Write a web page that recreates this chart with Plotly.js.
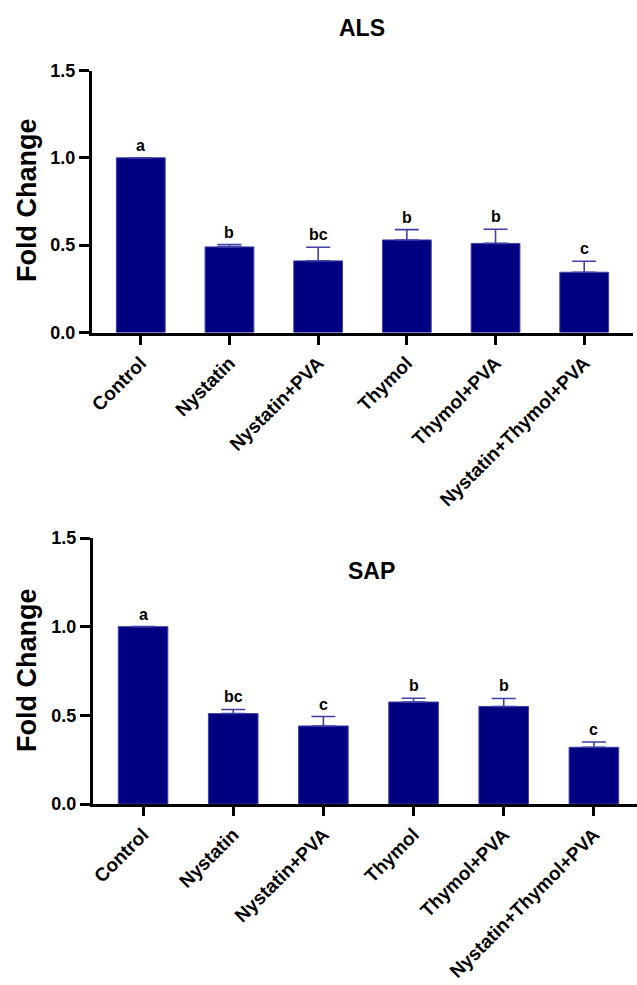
<!DOCTYPE html>
<html>
<head>
<meta charset="utf-8">
<script src="https://cdn.plot.ly/plotly-3.0.1.min.js"></script>
<style>html,body{margin:0;padding:0;background:#fff;}#chart{width:637px;height:985px;}</style>
</head>
<body>
<div id="chart"></div>
<script>
const categories = ['Control','Nystatin','Nystatin+PVA','Thymol','Thymol+PVA','Nystatin+Thymol+PVA'];
const alsMean = [1.0, 0.49, 0.41, 0.53, 0.51, 0.345];
const alsErr = [0, 0.013, 0.078, 0.059, 0.081, 0.063];
const alsLetters = ['a','b','bc','b','b','c'];
const sapMean = [1.0, 0.51, 0.44, 0.575, 0.55, 0.32];
const sapErr = [0, 0.023, 0.053, 0.021, 0.045, 0.030];
const sapLetters = ['a','bc','c','b','b','c'];
const yTicks = [0, 0.5, 1.0, 1.5];

const FONT = 'Arial, "Liberation Sans", sans-serif';
const BAR = '#000080';

function barTrace(mean, err, xa, ya){
  return {
    type:'bar', x:categories, y:mean, xaxis:xa, yaxis:ya, width:0.55,
    marker:{color:BAR, line:{color:'#3f3fa6', width:1}},
    error_y:{type:'data', symmetric:false, array:err, arrayminus:err.map(()=>0),
      color:'#3f3fa6', thickness:1.6, width:12, visible:true},
    hoverinfo:'skip', showlegend:false
  };
}

const data = [barTrace(alsMean, alsErr, 'x', 'y'), barTrace(sapMean, sapErr, 'x2', 'y2')];

function xAxis(domain, range, anchor){
  return {domain:domain, range:range, anchor:anchor, type:'category',
    showline:true, linecolor:'#000', linewidth:3, ticks:'outside', ticklen:9, tickwidth:3, tickcolor:'#000',
    tickangle:-45, tickfont:{family:FONT, size:19, color:'#000', weight:'bold'},
    showgrid:false, zeroline:false, fixedrange:true};
}
function yAxis(domain, anchor){
  return {domain:domain, range:[0,1.5], anchor:anchor, tickvals:yTicks, tickformat:'.1f',
    showline:true, linecolor:'#000', linewidth:3, ticks:'outside', ticklen:10, tickwidth:3, tickcolor:'#000',
    tickfont:{family:FONT, size:18, color:'#000', weight:'bold'},
    showgrid:false, zeroline:false, fixedrange:true};
}

const annotations = [];
function letters(mean, err, lets, xa, ya){
  lets.forEach((t,i)=>{
    annotations.push({xref:xa, yref:ya, x:categories[i], y:mean[i]+err[i], text:t, showarrow:false,
      yanchor:'bottom', yshift:2, font:{family:FONT, size:16, color:'#000', weight:'bold'}});
  });
}
letters(alsMean, alsErr, alsLetters, 'x', 'y');
letters(sapMean, sapErr, sapLetters, 'x2', 'y2');

annotations.push({xref:'paper', yref:'paper', x:362/637, y:1-28/985, text:'ALS', showarrow:false,
  xanchor:'center', yanchor:'middle', font:{family:FONT, size:23, color:'#000', weight:'bold'}});
annotations.push({xref:'paper', yref:'paper', x:371/637, y:1-571/985, text:'SAP', showarrow:false,
  xanchor:'center', yanchor:'middle', font:{family:FONT, size:23, color:'#000', weight:'bold'}});
annotations.push({xref:'paper', yref:'paper', x:27/637, y:1-200/985, text:'Fold Change', textangle:-90, showarrow:false,
  xanchor:'center', yanchor:'middle', font:{family:FONT, size:27, color:'#000', weight:'bold'}});
annotations.push({xref:'paper', yref:'paper', x:27/637, y:1-670/985, text:'Fold Change', textangle:-90, showarrow:false,
  xanchor:'center', yanchor:'middle', font:{family:FONT, size:27, color:'#000', weight:'bold'}});

const layout = {
  width:637, height:985, margin:{l:0, r:0, t:0, b:0},
  paper_bgcolor:'#fff', plot_bgcolor:'#fff', showlegend:false,
  xaxis: xAxis([92/637, 633/637], [-0.55, 5.55], 'y'),
  yaxis: yAxis([1-332.5/985, 1-70.5/985], 'x'),
  xaxis2: xAxis([93/637, 1], [-0.555, 5.478], 'y2'),
  yaxis2: yAxis([1-804/985, 1-538/985], 'x2'),
  annotations: annotations,
  bargap:0.45
};

Plotly.newPlot('chart', data, layout, {staticPlot:true, displayModeBar:false});
</script>
</body>
</html>
